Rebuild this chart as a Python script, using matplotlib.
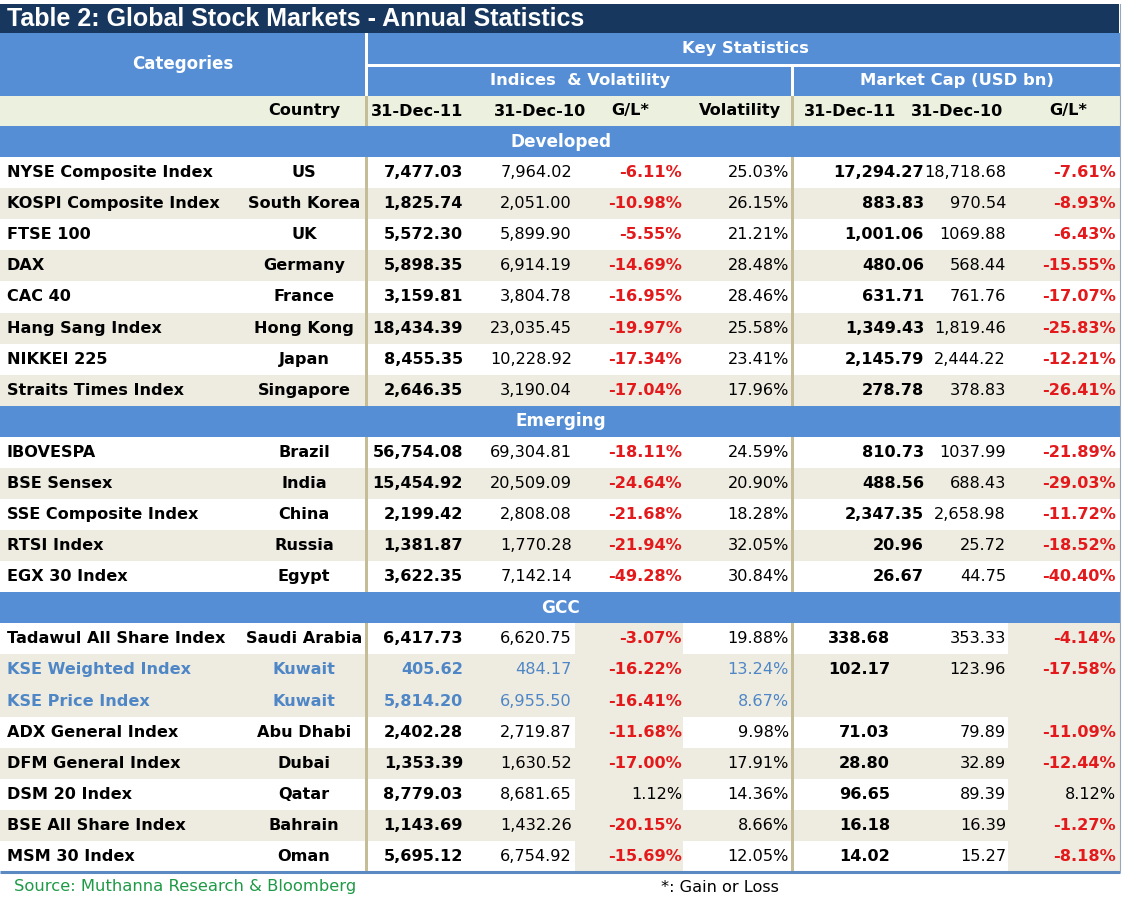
import matplotlib
matplotlib.use("Agg")
import matplotlib.pyplot as plt
from matplotlib.patches import Rectangle

# ---------------- data ----------------
title = "Table 2: Global Stock Markets - Annual Statistics"
sections = ["Developed", "Emerging", "GCC"]
section_sizes = [8, 5, 8]

index_names = [
    "NYSE Composite Index", "KOSPI Composite Index", "FTSE 100", "DAX", "CAC 40",
    "Hang Sang Index", "NIKKEI 225", "Straits Times Index",
    "IBOVESPA", "BSE Sensex", "SSE Composite Index", "RTSI Index", "EGX 30 Index",
    "Tadawul All Share Index", "KSE Weighted Index", "KSE Price Index", "ADX General Index",
    "DFM General Index", "DSM 20 Index", "BSE All Share Index", "MSM 30 Index",
]
countries = [
    "US", "South Korea", "UK", "Germany", "France", "Hong Kong", "Japan", "Singapore",
    "Brazil", "India", "China", "Russia", "Egypt",
    "Saudi Arabia", "Kuwait", "Kuwait", "Abu Dhabi", "Dubai", "Qatar", "Bahrain", "Oman",
]
idx_2011 = [7477.03, 1825.74, 5572.30, 5898.35, 3159.81, 18434.39, 8455.35, 2646.35,
            56754.08, 15454.92, 2199.42, 1381.87, 3622.35,
            6417.73, 405.62, 5814.20, 2402.28, 1353.39, 8779.03, 1143.69, 5695.12]
idx_2010 = [7964.02, 2051.00, 5899.90, 6914.19, 3804.78, 23035.45, 10228.92, 3190.04,
            69304.81, 20509.09, 2808.08, 1770.28, 7142.14,
            6620.75, 484.17, 6955.50, 2719.87, 1630.52, 8681.65, 1432.26, 6754.92]
idx_gl = [-6.11, -10.98, -5.55, -14.69, -16.95, -19.97, -17.34, -17.04,
          -18.11, -24.64, -21.68, -21.94, -49.28,
          -3.07, -16.22, -16.41, -11.68, -17.00, 1.12, -20.15, -15.69]
volatility = [25.03, 26.15, 21.21, 28.48, 28.46, 25.58, 23.41, 17.96,
              24.59, 20.90, 18.28, 32.05, 30.84,
              19.88, 13.24, 8.67, 9.98, 17.91, 14.36, 8.66, 12.05]
mcap_2011 = [17294.27, 883.83, 1001.06, 480.06, 631.71, 1349.43, 2145.79, 278.78,
             810.73, 488.56, 2347.35, 20.96, 26.67,
             338.68, 102.17, None, 71.03, 28.80, 96.65, 16.18, 14.02]
mcap_2010 = ["18,718.68", "970.54", "1069.88", "568.44", "761.76", "1,819.46", "2,444.22", "378.83",
             "1037.99", "688.43", "2,658.98", "25.72", "44.75",
             "353.33", "123.96", None, "79.89", "32.89", "89.39", "16.39", "15.27"]
mcap_gl = [-7.61, -8.93, -6.43, -15.55, -17.07, -25.83, -12.21, -26.41,
           -21.89, -29.03, -11.72, -18.52, -40.40,
           -4.14, -17.58, None, -11.09, -12.44, 8.12, -1.27, -8.18]

sub_headers = ["31-Dec-11", "31-Dec-10", "G/L*", "Volatility", "31-Dec-11", "31-Dec-10", "G/L*"]
source_note = "Source: Muthanna Research & Bloomberg"
footnote = "*: Gain or Loss"

# ---------------- style ----------------
NAVY = "#17375E"
BLUE = "#558ED5"
HEAD_ROW = "#EBF1DE"
BEIGE = "#EEECE1"
TAN = "#C4BD97"
RED = "#E3191B"
TXT_BLUE = "#4F86C6"
GREEN = "#1E9A46"
FONT = "DejaVu Sans"
FS = 11.6

W, H = 1122, 900
fig = plt.figure(figsize=(W / 100, H / 100), dpi=100)
ax = fig.add_axes([0, 0, 1, 1])
ax.set_xlim(0, W)
ax.set_ylim(H, 0)
ax.axis("off")


def rect(x0, y0, x1, y1, color, z=1):
    ax.add_patch(Rectangle((x0, y0), x1 - x0, y1 - y0, facecolor=color,
                           edgecolor="none", zorder=z))


def txt(x, y, s, ha="left", color="black", bold=False, size=FS, family=FONT, z=6):
    ax.text(x, y, s, ha=ha, va="center", color=color, fontsize=size,
            fontweight="bold" if bold else "normal", family=family, zorder=z)


# title bar
rect(0, 4, 1119, 33, NAVY)
txt(7, 18.5, title, color="white", bold=True, size=18.0, family="Liberation Sans")

# header block
rect(0, 33, 1120, 96, BLUE)
rect(365, 33, 368, 96, "white", 2)
rect(368, 64, 1120, 67, "white", 2)
rect(791, 67, 794, 96, "white", 2)
txt(183, 64, "Categories", ha="center", color="white", bold=True, size=12)
txt(745, 48.5, "Key Statistics", ha="center", color="white", bold=True, size=11.8)
txt(580, 80.5, "Indices  & Volatility", ha="center", color="white", bold=True, size=11.8)
txt(957, 80.5, "Market Cap (USD bn)", ha="center", color="white", bold=True, size=11.8)

# sub header row
rect(0, 96, 1120, 126, HEAD_ROW)
txt(304, 111, "Country", ha="center", bold=True)
sub_x = [417, 540, 630, 740, 850, 957, 1068]
for x, s in zip(sub_x, sub_headers):
    txt(x, 111, s, ha="center", bold=True)

# body geometry
top, bottom = 126, 872
n_units = len(sections) + sum(section_sizes)
unit = (bottom - top) / n_units

# separators
rect(365, 96, 368, bottom, TAN, 3)
rect(791, 96, 794, bottom, TAN, 3)

y = top
r = 0
for si, (sec, n) in enumerate(zip(sections, section_sizes)):
    rect(0, y, 1120, y + unit, BLUE, 4)
    txt(561, y + unit / 2, sec, ha="center", color="white", bold=True, size=12.2)
    y += unit
    shade = True
    prev_country = None
    for k in range(n):
        c = countries[r]
        if c != prev_country:
            shade = not shade
        prev_country = c
        y0, y1 = y, y + unit
        yc = (y0 + y1) / 2
        if shade:
            rect(0, y0, 1120, y1, BEIGE, 1)
        if sec == "GCC":
            rect(575, y0, 683, y1, BEIGE, 1.5)
            rect(1008, y0, 1120, y1, BEIGE, 1.5)
        col = TXT_BLUE if c == "Kuwait" else "black"
        txt(7, yc, index_names[r], color=col, bold=True)
        txt(304, yc, c, ha="center", color=col, bold=True)
        txt(463, yc, f"{idx_2011[r]:,.2f}", ha="right", color=col, bold=True)
        txt(572, yc, f"{idx_2010[r]:,.2f}", ha="right", color=col)
        g = idx_gl[r]
        txt(682, yc, f"{g:.2f}%", ha="right", color=RED if g < 0 else "black", bold=g < 0)
        txt(789, yc, f"{volatility[r]:.2f}%", ha="right", color=col)
        m11_right = 890 if sec == "GCC" else 924
        if mcap_2011[r] is not None:
            txt(m11_right, yc, f"{mcap_2011[r]:,.2f}", ha="right", bold=True)
        if mcap_2010[r] is not None:
            txt(1006, yc, mcap_2010[r], ha="right")
        mg = mcap_gl[r]
        if mg is not None:
            txt(1116, yc, f"{mg:.2f}%", ha="right", color=RED if mg < 0 else "black", bold=mg < 0)
        y += unit
        r += 1

# bottom rule and right edge
ax.plot([0, 1120], [bottom, bottom], color="#5B8AC2", lw=2.2, zorder=7, solid_capstyle="butt")
ax.plot([1120, 1120], [4, bottom], color="#9AA7B8", lw=0.8, zorder=7)

# footer
txt(14, 887, source_note, color=GREEN, size=11.8)
txt(661, 887, footnote, size=11.6)

fig.savefig("out.png", dpi=100)
